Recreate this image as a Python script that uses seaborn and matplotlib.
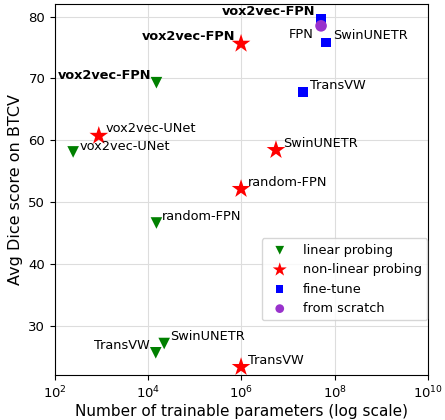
import matplotlib
matplotlib.use("Agg")
import matplotlib.pyplot as plt
import seaborn as sns
import pandas as pd
import numpy as np

methods = ["linear probing"] * 5 + ["non-linear probing"] * 5 + ["fine-tune"] * 3 + ["from scratch"]
models = ["vox2vec-FPN", "vox2vec-UNet", "random-FPN", "TransVW", "SwinUNETR",
          "vox2vec-FPN", "vox2vec-UNet", "random-FPN", "SwinUNETR", "TransVW",
          "vox2vec-FPN", "SwinUNETR", "TransVW",
          "FPN"]
params = [1.5e4, 2.45e2, 1.5e4, 1.45e4, 2.2e4,
          9.8e5, 8.7e2, 9.8e5, 5.5e6, 9.8e5,
          5.1e7, 6.6e7, 2.1e7,
          5.1e7]
dice = [69.3, 58.1, 46.6, 25.6, 27.1,
        75.6, 60.7, 52.1, 58.4, 23.3,
        79.7, 75.8, 67.8,
        78.5]
bold = [True, False, False, False, False,
        True, False, False, False, False,
        True, False, False,
        False]
# label offsets (points) and alignment
offsets = [(-4, 5, "right"), (5, 4, "left"), (4, 5, "left"), (-4, 5, "right"), (4, 5, "left"),
           (-4, 5, "right"), (5, 5, "left"), (5, 5, "left"), (5, 5, "left"), (5, 5, "left"),
           (-4, 5, "right"), (5, 5, "left"), (5, 5, "left"),
           (-5, -6, "right")]

df = pd.DataFrame({"method": methods, "model": models, "params": params, "dice": dice})

palette = {"linear probing": "green", "non-linear probing": "red",
           "fine-tune": "blue", "from scratch": "darkorchid"}
markers = {"linear probing": "v", "non-linear probing": "*",
           "fine-tune": "s", "from scratch": "o"}
sizes = {"linear probing": 70, "non-linear probing": 200,
         "fine-tune": 50, "from scratch": 70}

fig = plt.figure(figsize=(4.45, 4.2), dpi=100)
ax = fig.add_axes([0.1236, 0.107, 0.838, 0.883])

for m in palette:
    sub = df[df.method == m]
    sns.scatterplot(data=sub, x="params", y="dice", color=palette[m], marker=markers[m],
                    s=sizes[m], edgecolor="none", label=m, ax=ax, zorder=3)

for mdl, x, y, b, (dx, dy, ha) in zip(models, params, dice, bold, offsets):
    ax.annotate(mdl, (x, y), xytext=(dx, dy), textcoords="offset points",
                ha=ha, va="center", fontsize=9.3,
                fontweight="bold" if b else "normal")

ax.set_xscale("log")
ax.set_xlim(1e2, 1e10)
ax.set_ylim(22, 82)
ax.set_xticks([1e2, 1e4, 1e6, 1e8, 1e10])
ax.xaxis.set_minor_locator(matplotlib.ticker.NullLocator())
ax.set_yticks([30, 40, 50, 60, 70, 80])
ax.tick_params(labelsize=9.5)
ax.grid(True, color="#dddddd", linewidth=0.8, zorder=0)
ax.set_axisbelow(True)
ax.set_xlabel("Number of trainable parameters (log scale)", fontsize=11, labelpad=2)
ax.set_ylabel("Avg Dice score on BTCV", fontsize=11.5, labelpad=4)
ax.legend(loc="lower right", bbox_to_anchor=(0.998, 0.148), borderaxespad=0,
          fontsize=9.3, markerscale=0.75)

fig.savefig("out.png", dpi=100)
